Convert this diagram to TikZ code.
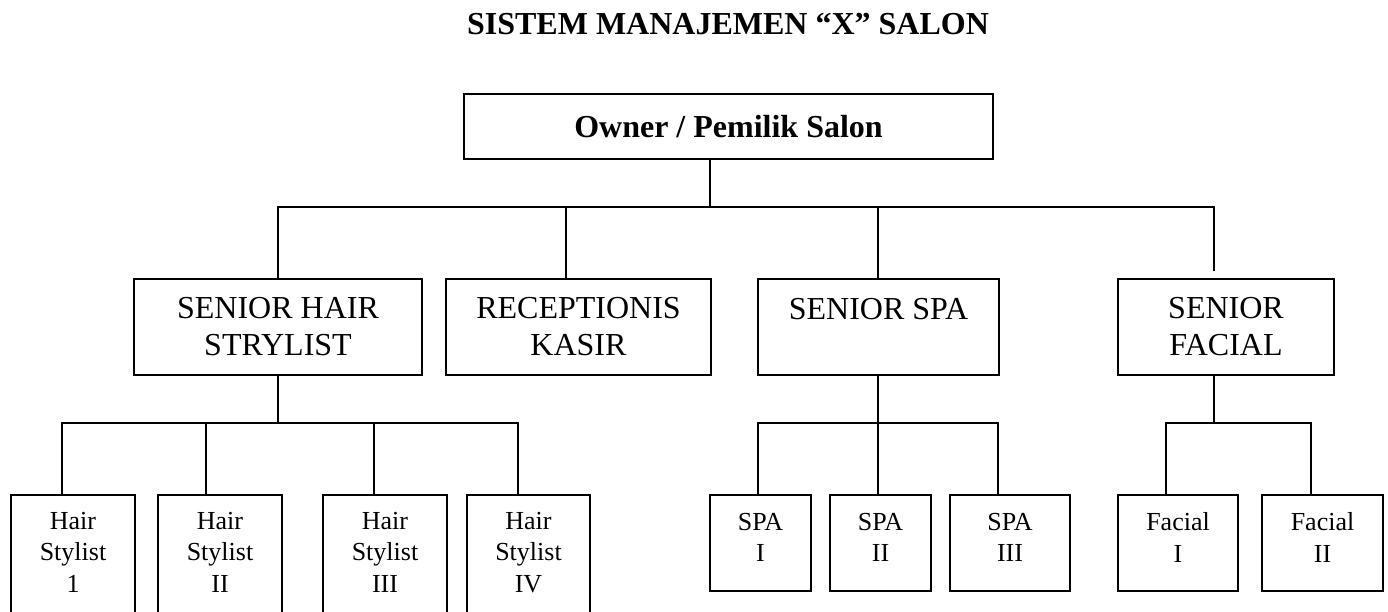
\documentclass[tikz,border=0pt]{standalone}
\usepackage{fontspec}
\setmainfont{Liberation Serif}
\usetikzlibrary{calc}

\begin{document}
\begin{tikzpicture}
    [%
        x=1pt,%
        y=-1pt,%
        line width=1.5pt,%
        title text/.style={%
            font=\fontsize{32}{37}\selectfont\bfseries,%
            anchor=base%
        },%
        owner box/.style={%
            draw,%
            inner sep=0pt,%
            font=\fontsize{32}{37}\selectfont\bfseries%
        },%
        chief box/.style={%
            draw,%
            inner sep=0pt,%
            align=center,%
            minimum height=96pt,%
            font=\fontsize{32}{37}\selectfont%
        },%
        staff box/.style={%
            draw,%
            inner sep=0pt,%
            align=center,%
            text depth=11pt,%
            font=\fontsize{26}{31.5}\selectfont%
        }%
    ]%
    \useasboundingbox (0,0) rectangle (1388,612);
%
    \node[title text] (title) at (728,35) {SISTEM MANAJEMEN “X” SALON};
    \node[owner box, minimum width=529pt, minimum height=65pt] (owner)
        at (728.5,126.5) {Owner / Pemilik Salon};
%
    % level of the seniors
    % \name node name, \x centre, \w width, \txt text
    \foreach \name/\x/\w/\txt in {%
        hair/278/288/{SENIOR HAIR\\STRYLIST},%
        recep/578.5/265/{RECEPTIONIS\\KASIR},%
        spa/878.5/241/{SENIOR SPA\\\mbox{}},%
        facial/1226/216/{SENIOR\\FACIAL}%
    }
        \node[chief box, minimum width=\w pt] (\name) at (\x,327) {\txt};
%
    % level of the staff
    % \name node name, \x/\y centre, \w/\h size, \txt text
    \foreach \name/\x/\y/\w/\h/\txt in {%
        hair1/73/557.5/124/125/{Hair\\Stylist\\1},%
        hair2/220/557.5/124/125/{Hair\\Stylist\\II},%
        hair3/385/557.5/124/125/{Hair\\Stylist\\III},%
        hair4/528.5/557.5/123/125/{Hair\\Stylist\\IV},%
        spa1/760.5/543/101/96/{SPA\\I},%
        spa2/880.5/543/101/96/{SPA\\II},%
        spa3/1010/543/120/96/{SPA\\III},%
        fac1/1178/543/120/96/{Facial\\I},%
        fac2/1322.5/543/121/96/{Facial\\II}%
    }
        \node[staff box, minimum width=\w pt, minimum height=\h pt] (\name)
            at (\x,\y) {\txt};
%
    % heights of the two buses
    \coordinate (topbus) at (0,207);
    \coordinate (lowbus) at (0,423);
%
    % owner to the seniors
    \coordinate (owner-bus) at ([xshift=-18.5pt]owner.south |- topbus);
    \draw ([xshift=-18.5pt]owner.south) -- (owner-bus);
    % \head senior, \dx shift of its line, \gap line stops short
    \foreach \head/\dx/\gap in {hair/0/0,recep/-12.5/0,spa/-0.5/0,facial/-12/7} {
        \draw ([xshift=\dx pt,yshift=\gap pt]\head.north) |- (owner-bus);
    } % \foreach \head/\dx/\gap
%
    % seniors to their staff
    % \boss senior, \dboss shift of its stem, \members staff/shift
    \foreach \boss/\dboss/\members in {%
        hair/0/{hair1/-11,hair2/-14,hair3/-11,hair4/-10.5},%
        spa/-0.5/{spa1/-2.5,spa2/-2.5,spa3/-12},%
        facial/-12/{fac1/-12,fac2/-11.5}%
    }{
        \coordinate (\boss-bus) at ([xshift=\dboss pt]\boss.south |- lowbus);
        \draw ([xshift=\dboss pt]\boss.south) -- (\boss-bus);
        \foreach \kid/\dx in \members {
            \draw ([xshift=\dx pt]\kid.north) |- (\boss-bus);
        } % \foreach \kid/\dx
    } % \foreach \boss/\dboss/\members
\end{tikzpicture}
\end{document}
